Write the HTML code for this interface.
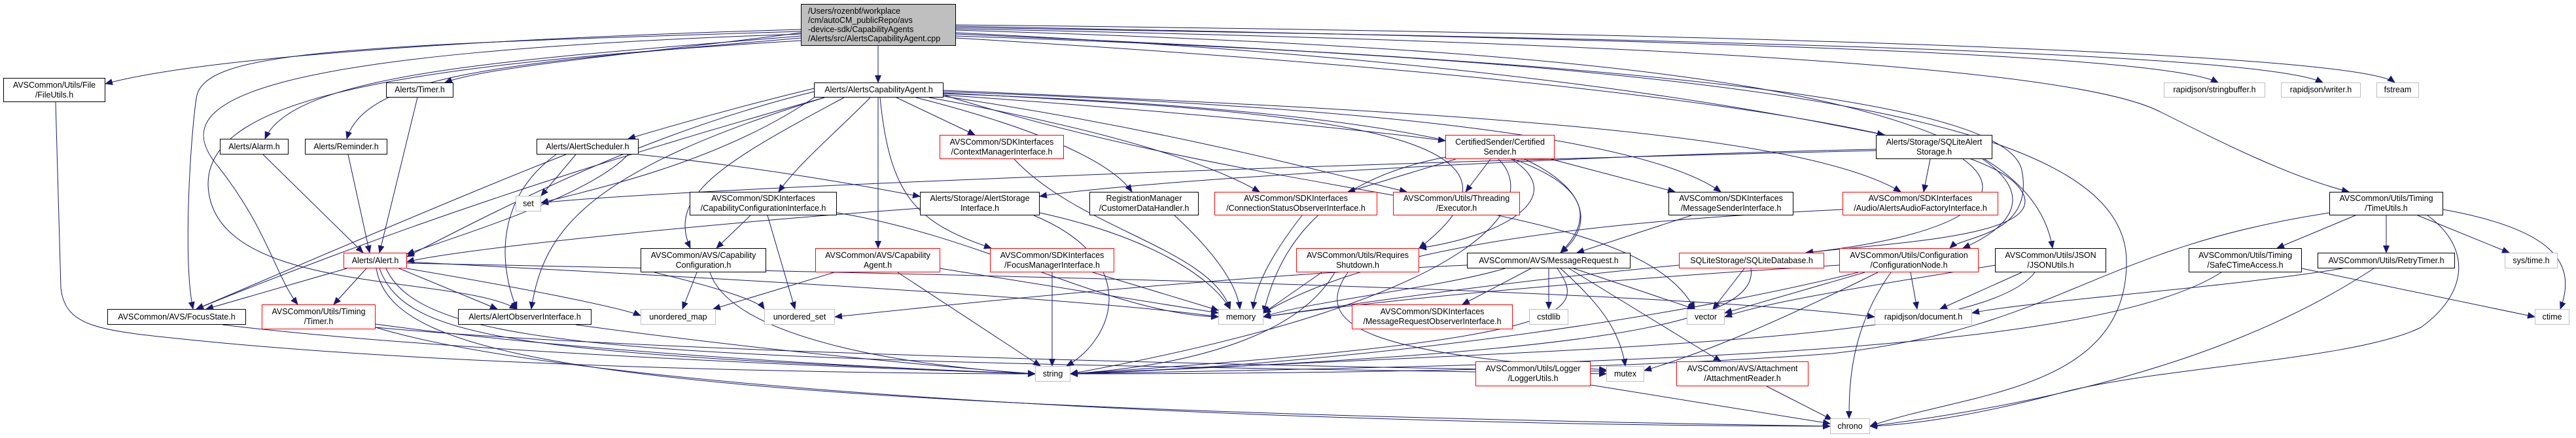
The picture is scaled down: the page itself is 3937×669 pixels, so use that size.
<!DOCTYPE html>
<html><head><meta charset="utf-8"><style>
html,body{margin:0;padding:0;background:#fff;}
#c{position:relative;width:3937px;height:669px;overflow:hidden;font-family:"Liberation Sans",sans-serif;font-size:12.5px;color:#000;}
svg{position:absolute;left:0;top:0;}
.n{position:absolute;box-sizing:border-box;border:1.3px solid #000;background:#fff;display:flex;align-items:center;justify-content:center;text-align:center;line-height:15px;white-space:nowrap;}
.r{border-color:#f00;}
.g{border-color:#bfbfbf;}
</style></head><body><div id="c">
<svg width="3937" height="669" viewBox="0 0 3937 669">
<defs><marker id="a" markerWidth="12" markerHeight="10" refX="11" refY="5" orient="auto" markerUnits="userSpaceOnUse"><path d="M0,0 L12,5 L0,10 z" fill="#191970"/></marker></defs>
<g fill="none" stroke="#191970" stroke-width="1" marker-end="url(#a)">
<path d="M1224 45 C700 60 300 90 161 128"/>
<path d="M1224 50 C1000 80 750 100 680 126"/>
<path d="M1224 55 C800 90 450 110 405 212"/>
<path d="M1224 58 C800 95 560 110 530 212"/>
<path d="M1224 48 C500 70 310 80 300 150 S280 400 295 472"/>
<path d="M1224 52 C400 80 250 150 330 250 S420 420 455 465"/>
<path d="M1224 62 C600 100 290 150 320 300 S700 420 790 472"/>
<path d="M1342 70 L1342 126"/>
<path d="M1461 40 C2500 60 3300 80 3390 126"/>
<path d="M1461 42 C2600 60 3450 80 3550 126"/>
<path d="M1461 38 C2600 50 3600 80 3660 126"/>
<path d="M1461 44 C2800 70 3200 120 3300 170 S3500 270 3590 293"/>
<path d="M1461 46 C2600 80 3100 150 3137 379"/>
<path d="M1461 50 C2300 90 2700 170 2880 206"/>
<path d="M1461 52 C2600 100 3070 160 3090 260 S3000 360 2980 379"/>
<path d="M1461 55 C2800 100 3250 200 3250 400 S3000 600 2858 651"/>
<path d="M1461 58 C2500 120 3000 200 3080 280 S2900 370 2760 386"/>
<path d="M1244 140 C1000 200 800 300 622 392"/>
<path d="M1244 135 C1100 170 1000 200 960 212"/>
<path d="M1250 145 C1100 250 900 290 827 310"/>
<path d="M1260 149 C900 250 600 350 300 472"/>
<path d="M1330 149 C1280 200 1220 250 1190 293"/>
<path d="M1290 149 C1100 250 1020 300 1055 379"/>
<path d="M1342 149 L1342 379"/>
<path d="M1370 149 L1490 206"/>
<path d="M1400 149 C1600 200 1700 250 1730 293"/>
<path d="M1420 149 C1700 200 1850 250 1925 293"/>
<path d="M1345 149 C1360 300 1400 340 1515 379"/>
<path d="M1442 145 C1800 170 2100 200 2209 215"/>
<path d="M1442 147 C1800 200 2050 270 2150 293"/>
<path d="M1442 140 C2000 160 2500 200 2630 293"/>
<path d="M1442 138 C2200 170 2750 200 2905 293"/>
<path d="M1442 142 C2000 170 2400 200 2169 379"/>
<path d="M1442 143 C2200 170 2520 250 2385 386"/>
<path d="M1260 149 C900 260 830 350 812 472"/>
<path d="M1442 145 C2000 320 2500 300 2590 472"/>
<path d="M880 236 L827 299"/>
<path d="M960 236 C900 300 700 360 622 388"/>
<path d="M865 236 C700 300 400 430 300 472"/>
<path d="M850 236 C760 300 760 400 790 472"/>
<path d="M976 236 C1200 260 1350 290 1406 300"/>
<path d="M402 236 L555 386"/>
<path d="M532 236 L565 386"/>
<path d="M638 149 L580 386"/>
<path d="M530 410 L315 472"/>
<path d="M560 410 L510 465"/>
<path d="M610 410 L760 472"/>
<path d="M622 410 C800 440 950 470 979 482"/>
<path d="M622 400 C1200 430 1700 460 1862 484"/>
<path d="M580 410 C620 520 800 540 1582 571"/>
<path d="M590 410 C650 540 1000 550 2455 571"/>
<path d="M575 410 C600 550 900 620 2797 651"/>
<path d="M622 402 C1500 420 2500 440 2865 484"/>
<path d="M1406 318 C1100 340 700 380 622 400"/>
<path d="M1589 325 C1750 360 1850 420 1880 472"/>
<path d="M1580 329 C1750 400 1700 520 1630 559"/>
<path d="M1147 329 L1095 379"/>
<path d="M1173 329 L1215 472"/>
<path d="M1279 325 C1500 360 1700 480 1862 484"/>
<path d="M1065 416 L1043 472"/>
<path d="M1085 416 C1120 520 1400 560 1582 571"/>
<path d="M1000 416 C1100 440 1160 460 1168 472"/>
<path d="M1550 243 C1650 350 1850 380 1880 472"/>
<path d="M1795 329 C1850 380 1890 430 1895 472"/>
<path d="M1275 416 L1090 472"/>
<path d="M1372 416 L1590 559"/>
<path d="M1437 410 L1862 478"/>
<path d="M1608 416 L1608 559"/>
<path d="M1670 416 L1862 474"/>
<path d="M2020 416 L1931 478"/>
<path d="M2040 416 C1980 520 1800 560 1636 571"/>
<path d="M2060 416 C2000 500 2100 540 2455 565"/>
<path d="M1990 329 C1950 380 1920 430 1915 472"/>
<path d="M2225 243 L2060 293"/>
<path d="M2278 243 L2240 293"/>
<path d="M2370 243 L2560 293"/>
<path d="M2330 243 C2450 300 2420 360 2385 386"/>
<path d="M2310 243 C2400 300 2300 360 2169 379"/>
<path d="M2209 240 C2000 280 1950 400 1931 478"/>
<path d="M2290 243 C2350 300 2300 450 1636 571"/>
<path d="M2867 228 C2300 240 1700 280 1589 300"/>
<path d="M2950 243 L2940 293"/>
<path d="M3000 243 C3080 300 3000 360 2760 386"/>
<path d="M3030 243 C3100 290 3090 340 3000 379"/>
<path d="M2867 230 C2000 250 1000 290 827 310"/>
<path d="M2585 329 L2410 386"/>
<path d="M2816 320 C2400 340 2100 380 1931 478"/>
<path d="M2340 410 L2235 465"/>
<path d="M2367 410 L2367 472"/>
<path d="M2405 410 L2590 472"/>
<path d="M2385 410 C2440 460 2475 500 2484 559"/>
<path d="M2398 410 L2630 552"/>
<path d="M2300 410 C2200 440 2000 460 1931 484"/>
<path d="M2380 410 C2430 480 2400 520 1636 571"/>
<path d="M2242 405 C1900 420 1500 460 1276 484"/>
<path d="M2666 410 L2618 472"/>
<path d="M2676 410 C2690 500 2400 540 1636 571"/>
<path d="M2566 405 C2300 430 2100 460 1931 484"/>
<path d="M2850 416 L2636 478"/>
<path d="M2920 416 L2930 472"/>
<path d="M2890 416 C2830 500 2826 580 2826 639"/>
<path d="M2870 416 C2700 500 2600 540 2513 566"/>
<path d="M2840 416 C2500 500 2000 560 1636 571"/>
<path d="M2811 405 C2400 430 2100 460 1931 484"/>
<path d="M3090 416 L2965 472"/>
<path d="M3110 416 C3030 520 2500 530 1636 571"/>
<path d="M3050 405 C2900 430 2700 460 2636 484"/>
<path d="M3600 329 L3480 379"/>
<path d="M3647 329 L3647 386"/>
<path d="M3695 329 L3835 386"/>
<path d="M3734 320 C3900 350 3940 400 3913 472"/>
<path d="M3710 329 C3780 380 3770 450 3700 500 C3600 550 3300 560 3150 600 C3000 640 2900 650 2858 651"/>
<path d="M3560 325 C3200 380 3150 500 2800 540 C2400 570 1800 571 1636 571"/>
<path d="M3518 410 L3874 484"/>
<path d="M3395 416 C3200 540 2500 555 1636 571"/>
<path d="M3628 410 C3400 560 3100 620 2858 651"/>
<path d="M3580 410 C3400 440 3100 460 3014 478"/>
<path d="M2431 588 L2797 647"/>
<path d="M2700 590 L2800 641"/>
<path d="M574 495 C900 540 1400 565 1582 571"/>
<path d="M574 500 C1000 540 2000 560 2455 567"/>
<path d="M574 500 C900 600 2000 650 2797 651"/>
<path d="M340 496 C700 540 1400 565 1582 571"/>
<path d="M85 156 L93 440 C100 500 150 505 300 520 C700 560 1300 571 1582 571"/>
<path d="M880 496 C1200 540 1500 565 1582 571"/>
</g></svg>

<div class="n" style="left:1224px;top:6px;width:237px;height:64px;background:#bfbfbf;justify-content:flex-start;text-align:left;padding-left:10px;line-height:14px">/Users/rozenbf/workplace<br>/cm/autoCM_publicRepo/avs<br>-device-sdk/CapabilityAgents<br>/Alerts/src/AlertsCapabilityAgent.cpp</div>

<div class="n" style="left:5px;top:119px;width:156px;height:37px">AVSCommon/Utils/File<br>/FileUtils.h</div>
<div class="n" style="left:590px;top:126px;width:103px;height:23px">Alerts/Timer.h</div>
<div class="n" style="left:1244px;top:126px;width:198px;height:23px">Alerts/AlertsCapabilityAgent.h</div>
<div class="n g" style="left:3307px;top:126px;width:155px;height:23px">rapidjson/stringbuffer.h</div>
<div class="n g" style="left:3486px;top:126px;width:122px;height:23px">rapidjson/writer.h</div>
<div class="n g" style="left:3632px;top:126px;width:65px;height:23px">fstream</div>

<div class="n" style="left:336px;top:212px;width:105px;height:24px">Alerts/Alarm.h</div>
<div class="n" style="left:466px;top:212px;width:126px;height:24px">Alerts/Reminder.h</div>
<div class="n" style="left:820px;top:212px;width:156px;height:24px">Alerts/AlertScheduler.h</div>
<div class="n r" style="left:1436px;top:206px;width:190px;height:37px">AVSCommon/SDKInterfaces<br>/ContextManagerInterface.h</div>
<div class="n r" style="left:2209px;top:206px;width:167px;height:37px">CertifiedSender/Certified<br>Sender.h</div>
<div class="n" style="left:2867px;top:206px;width:178px;height:37px">Alerts/Storage/SQLiteAlert<br>Storage.h</div>

<div class="n g" style="left:788px;top:299px;width:39px;height:24px">set</div>
<div class="n" style="left:1054px;top:293px;width:225px;height:36px">AVSCommon/SDKInterfaces<br>/CapabilityConfigurationInterface.h</div>
<div class="n" style="left:1406px;top:293px;width:183px;height:36px">Alerts/Storage/AlertStorage<br>Interface.h</div>
<div class="n" style="left:1665px;top:293px;width:167px;height:36px">RegistrationManager<br>/CustomerDataHandler.h</div>
<div class="n r" style="left:1856px;top:293px;width:249px;height:36px">AVSCommon/SDKInterfaces<br>/ConnectionStatusObserverInterface.h</div>
<div class="n r" style="left:2129px;top:293px;width:194px;height:36px">AVSCommon/Utils/Threading<br>/Executor.h</div>
<div class="n" style="left:2550px;top:293px;width:191px;height:36px">AVSCommon/SDKInterfaces<br>/MessageSenderInterface.h</div>
<div class="n r" style="left:2816px;top:293px;width:238px;height:36px">AVSCommon/SDKInterfaces<br>/Audio/AlertsAudioFactoryInterface.h</div>
<div class="n" style="left:3560px;top:293px;width:174px;height:36px">AVSCommon/Utils/Timing<br>/TimeUtils.h</div>

<div class="n r" style="left:525px;top:386px;width:97px;height:24px">Alerts/Alert.h</div>
<div class="n" style="left:979px;top:379px;width:192px;height:37px">AVSCommon/AVS/Capability<br>Configuration.h</div>
<div class="n r" style="left:1246px;top:379px;width:191px;height:37px">AVSCommon/AVS/Capability<br>Agent.h</div>
<div class="n r" style="left:1513px;top:379px;width:190px;height:37px">AVSCommon/SDKInterfaces<br>/FocusManagerInterface.h</div>
<div class="n r" style="left:1981px;top:379px;width:188px;height:37px">AVSCommon/Utils/Requires<br>Shutdown.h</div>
<div class="n" style="left:2242px;top:386px;width:250px;height:24px">AVSCommon/AVS/MessageRequest.h</div>
<div class="n r" style="left:2566px;top:386px;width:222px;height:24px">SQLiteStorage/SQLiteDatabase.h</div>
<div class="n r" style="left:2811px;top:379px;width:213px;height:37px">AVSCommon/Utils/Configuration<br>/ConfigurationNode.h</div>
<div class="n" style="left:3049px;top:379px;width:170px;height:37px">AVSCommon/Utils/JSON<br>/JSONUtils.h</div>
<div class="n" style="left:3345px;top:379px;width:173px;height:37px">AVSCommon/Utils/Timing<br>/SafeCTimeAccess.h</div>
<div class="n" style="left:3542px;top:386px;width:210px;height:24px">AVSCommon/Utils/RetryTimer.h</div>
<div class="n g" style="left:3828px;top:386px;width:81px;height:24px">sys/time.h</div>

<div class="n" style="left:164px;top:472px;width:212px;height:24px">AVSCommon/AVS/FocusState.h</div>
<div class="n r" style="left:400px;top:465px;width:174px;height:38px">AVSCommon/Utils/Timing<br>/Timer.h</div>
<div class="n" style="left:700px;top:472px;width:204px;height:24px">Alerts/AlertObserverInterface.h</div>
<div class="n g" style="left:979px;top:472px;width:115px;height:24px">unordered_map</div>
<div class="n g" style="left:1168px;top:472px;width:108px;height:24px">unordered_set</div>
<div class="n g" style="left:1862px;top:472px;width:69px;height:24px">memory</div>
<div class="n r" style="left:2066px;top:465px;width:246px;height:38px">AVSCommon/SDKInterfaces<br>/MessageRequestObserverInterface.h</div>
<div class="n g" style="left:2337px;top:472px;width:60px;height:24px">cstdlib</div>
<div class="n g" style="left:2578px;top:472px;width:58px;height:24px">vector</div>
<div class="n g" style="left:2865px;top:472px;width:149px;height:24px">rapidjson/document.h</div>
<div class="n g" style="left:3874px;top:472px;width:53px;height:24px">ctime</div>

<div class="n g" style="left:1582px;top:559px;width:54px;height:24px">string</div>
<div class="n r" style="left:2255px;top:552px;width:176px;height:38px">AVSCommon/Utils/Logger<br>/LoggerUtils.h</div>
<div class="n g" style="left:2455px;top:559px;width:58px;height:24px">mutex</div>
<div class="n r" style="left:2562px;top:552px;width:202px;height:38px">AVSCommon/AVS/Attachment<br>/AttachmentReader.h</div>
<div class="n g" style="left:2797px;top:639px;width:61px;height:24px">chrono</div>
</div></body></html>
